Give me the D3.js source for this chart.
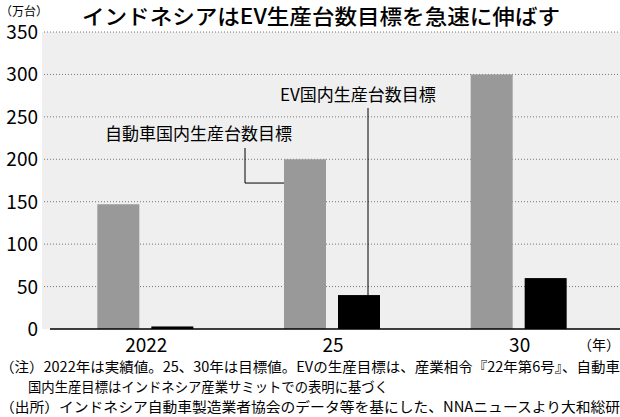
<!DOCTYPE html>
<html><head><meta charset="utf-8">
<script src="https://cdn.jsdelivr.net/npm/d3@7"></script>
<style>body{margin:0;background:#fff}text{font-family:"Noto Sans CJK JP",sans-serif}</style>
</head><body><svg id="c" width="620" height="417"></svg>
<script>
const years = ['2022', '25', '30'];
const totalTarget = [147, 200, 300];
const evTarget = [3, 40, 60];
const yTicks = [0, 50, 100, 150, 200, 250, 300, 350];

const svg = d3.select('#c');
const x = d3.scaleBand().domain(years).range([53, 613]);
const y = d3.scaleLinear().domain([0, 350]).range([329, 32]);

svg.append('rect').attr('x', 42).attr('y', 32).attr('width', 578).attr('height', 297).attr('fill', '#efefef');
yTicks.forEach(t => {
  if (t > 0) svg.append('line').attr('x1', 44).attr('x2', 620).attr('y1', y(t)).attr('y2', y(t))
    .attr('stroke', '#777').attr('stroke-dasharray', '1,2');
  svg.append('text').attr('x', 38).attr('y', y(t) + 7).attr('text-anchor', 'end')
    .attr('font-size', 19).text(t);
});

const bw = 42;
years.forEach((d, i) => {
  const c = x(d) + x.bandwidth() / 2;
  svg.append('rect').attr('x', c - 28 - bw / 2).attr('y', y(totalTarget[i])).attr('width', bw)
    .attr('height', y(0) - y(totalTarget[i])).attr('fill', '#999');
  svg.append('rect').attr('x', c + 26 - bw / 2).attr('y', y(evTarget[i])).attr('width', bw)
    .attr('height', y(0) - y(evTarget[i])).attr('fill', '#000');
  svg.append('text').attr('x', c).attr('y', 352).attr('text-anchor', 'middle').attr('font-size', 19).text(d);
});
svg.append('line').attr('x1', 50).attr('x2', 620).attr('y1', y(0)).attr('y2', y(0)).attr('stroke', '#000').attr('stroke-width', 1.5);
svg.append('text').attr('x', 578).attr('y', 350).attr('font-size', 14).text('（年）');

// callouts
const c25 = x('25') + x.bandwidth() / 2;
svg.append('text').attr('x', 105).attr('y', 140).attr('font-size', 17).text('自動車国内生産台数目標');
svg.append('path').attr('d', `M245,148V${y(172)}H${c25 - 28 - bw / 2}`).attr('fill', 'none').attr('stroke', '#000');
svg.append('text').attr('x', 280).attr('y', 101).attr('font-size', 17).text('EV国内生産台数目標');
svg.append('line').attr('x1', 368).attr('x2', 368).attr('y1', 108).attr('y2', y(evTarget[1])).attr('stroke', '#000');

svg.append('text').attr('x', 0).attr('y', 16).attr('font-size', 12).text('（万台）');
svg.append('text').attr('x', 82).attr('y', 24).attr('font-size', 21).attr('font-weight', 500)
  .attr('textLength', 478).attr('lengthAdjust', 'spacingAndGlyphs').text('インドネシアはEV生産台数目標を急速に伸ばす');

const notes = [
  ['（注）2022年は実績値。25、30年は目標値。EVの生産目標は、産業相令『22年第6号』、自動車', 0, 372],
  ['国内生産目標はインドネシア産業サミットでの表明に基づく', 28, 392],
  ['（出所）インドネシア自動車製造業者協会のデータ等を基にした、NNAニュースより大和総研', 0, 412]
];
notes.forEach(n => svg.append('text').attr('x', n[1]).attr('y', n[2]).attr('font-size', 14)
  .attr('textLength', n[1] ? 360 : 620).attr('lengthAdjust', 'spacingAndGlyphs').text(n[0]));
</script></body></html>
